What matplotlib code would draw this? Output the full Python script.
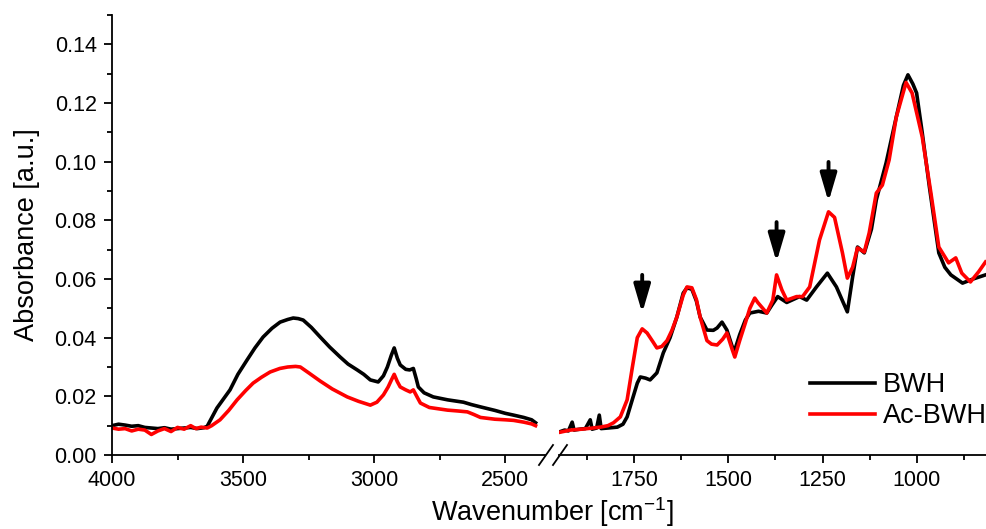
import numpy as np
import matplotlib.pyplot as plt
from matplotlib.ticker import MultipleLocator

plt.rcParams['font.family'] = ['Liberation Sans', 'DejaVu Sans']
plt.rcParams['mathtext.fontset'] = 'custom'
plt.rcParams['mathtext.rm'] = 'Liberation Sans'
plt.rcParams['mathtext.it'] = 'Liberation Sans:italic'

# high wavenumber region (4000 - 2385 cm-1)
wn_hi_bwh = [4000, 3975, 3950, 3925, 3900, 3875, 3850, 3825, 3800, 3775, 3750, 3725, 3700,
             3675, 3650, 3637, 3600, 3550, 3520, 3485, 3455, 3424, 3390, 3359, 3330, 3309,
             3290, 3271, 3240, 3206, 3170, 3130, 3100, 3065, 3040, 3015, 2985, 2965, 2950,
             2935, 2924, 2912, 2901, 2880, 2865, 2851, 2840, 2832, 2810, 2775, 2720, 2660,
             2630, 2595, 2540, 2500, 2469, 2430, 2400, 2385]
abs_hi_bwh = [0.0100, 0.0105, 0.0102, 0.0098, 0.0100, 0.0094, 0.0092, 0.0090, 0.0093, 0.0088,
              0.0090, 0.0092, 0.0094, 0.0090, 0.0093, 0.0098, 0.0160, 0.0222, 0.0275, 0.0324,
              0.0365, 0.0402, 0.0432, 0.0453, 0.0462, 0.0467, 0.0465, 0.0460, 0.0435, 0.0402,
              0.0368, 0.0334, 0.0310, 0.0290, 0.0275, 0.0256, 0.0249, 0.0270, 0.0300, 0.0340,
              0.0365, 0.0330, 0.0307, 0.0292, 0.0290, 0.0295, 0.0260, 0.0232, 0.0212, 0.0198,
              0.0188, 0.0180, 0.0172, 0.0164, 0.0152, 0.0142, 0.0136, 0.0128, 0.0120, 0.0110]

wn_hi_ac = [4000, 3975, 3950, 3925, 3900, 3875, 3850, 3825, 3800, 3775, 3750, 3725, 3700,
            3680, 3660, 3637, 3620, 3588, 3555, 3523, 3490, 3462, 3430, 3397, 3360, 3330,
            3300, 3282, 3250, 3206, 3160, 3103, 3060, 3015, 2990, 2965, 2947, 2935, 2924,
            2912, 2901, 2880, 2863, 2851, 2835, 2824, 2790, 2721, 2680, 2645, 2620, 2595,
            2540, 2500, 2469, 2430, 2400, 2385]
abs_hi_ac = [0.0092, 0.0088, 0.0090, 0.0082, 0.0088, 0.0085, 0.0070, 0.0082, 0.0090, 0.0080,
             0.0094, 0.0088, 0.0100, 0.0090, 0.0095, 0.0092, 0.0100, 0.0120, 0.0152, 0.0188,
             0.0220, 0.0245, 0.0265, 0.0283, 0.0295, 0.0300, 0.0302, 0.0300, 0.0280, 0.0252,
             0.0225, 0.0198, 0.0183, 0.0170, 0.0180, 0.0205, 0.0232, 0.0255, 0.0275, 0.0250,
             0.0232, 0.0222, 0.0215, 0.0222, 0.0195, 0.0177, 0.0162, 0.0153, 0.0150, 0.0147,
             0.0138, 0.0128, 0.0122, 0.0120, 0.0118, 0.0112, 0.0106, 0.0100]

# fingerprint region (1946 - 817 cm-1)
wn_lo_bwh = [1946, 1935, 1925, 1915, 1910, 1895, 1880, 1867, 1862, 1850, 1843, 1838, 1820,
             1795, 1780, 1769, 1755, 1742, 1734, 1720, 1708, 1690, 1673, 1655, 1637, 1620,
             1610, 1597, 1585, 1575, 1557, 1540, 1530, 1517, 1504, 1490, 1483, 1470, 1455,
             1443, 1420, 1398, 1385, 1369, 1345, 1311, 1292, 1266, 1237, 1213, 1195, 1184,
             1170, 1157, 1139, 1120, 1107, 1081, 1054, 1035, 1023, 1010, 1000, 985, 966,
             941, 925, 909, 878, 850, 817]
abs_lo_bwh = [0.0080, 0.0085, 0.0082, 0.0112, 0.0085, 0.0088, 0.0090, 0.0120, 0.0088, 0.0092,
              0.0136, 0.0090, 0.0092, 0.0095, 0.0105, 0.0130, 0.0190, 0.0245, 0.0266, 0.0262,
              0.0256, 0.0280, 0.0348, 0.0400, 0.0470, 0.0552, 0.0570, 0.0565, 0.0525, 0.0470,
              0.0426, 0.0425, 0.0433, 0.0453, 0.0426, 0.0370, 0.0358, 0.0410, 0.0460, 0.0484,
              0.0490, 0.0484, 0.0510, 0.0540, 0.0520, 0.0540, 0.0528, 0.0573, 0.0620, 0.0573,
              0.0520, 0.0488, 0.0607, 0.0709, 0.0689, 0.0770, 0.0870, 0.0996, 0.1152, 0.1260,
              0.1296, 0.1265, 0.1234, 0.1098, 0.0914, 0.0689, 0.0640, 0.0614, 0.0586, 0.0600,
              0.0614]

wn_lo_ac = [1946, 1920, 1890, 1860, 1840, 1820, 1805, 1787, 1769, 1755, 1742, 1729, 1716,
            1700, 1690, 1677, 1663, 1650, 1637, 1620, 1610, 1597, 1585, 1575, 1557, 1545,
            1530, 1515, 1504, 1490, 1483, 1470, 1455, 1443, 1430, 1422, 1398, 1382, 1372,
            1358, 1345, 1319, 1303, 1284, 1258, 1234, 1218, 1197, 1184, 1170, 1157, 1139,
            1126, 1107, 1091, 1073, 1054, 1028, 1012, 985, 962, 941, 915, 896, 880, 857,
            835, 817]
abs_lo_ac = [0.0078, 0.0085, 0.0088, 0.0092, 0.0095, 0.0100, 0.0110, 0.0130, 0.0188, 0.0300,
             0.0400, 0.0430, 0.0416, 0.0385, 0.0365, 0.0370, 0.0390, 0.0425, 0.0470, 0.0545,
             0.0573, 0.0570, 0.0530, 0.0470, 0.0390, 0.0378, 0.0375, 0.0395, 0.0416, 0.0360,
             0.0334, 0.0390, 0.0450, 0.0500, 0.0535, 0.0520, 0.0484, 0.0528, 0.0614, 0.0563,
             0.0528, 0.0540, 0.0540, 0.0573, 0.0733, 0.0829, 0.0810, 0.0689, 0.0603, 0.0640,
             0.0706, 0.0692, 0.0757, 0.0893, 0.0920, 0.1006, 0.1152, 0.1270, 0.1234, 0.1084,
             0.0893, 0.0709, 0.0655, 0.0672, 0.0620, 0.0590, 0.0625, 0.0658]

# arrows marking acetyl bands: (wavenumber, tail, tip)
arrow_marks = [(1729, 0.0614, 0.0484), (1372, 0.0794, 0.0658), (1234, 0.0999, 0.0863)]

W, H = 987, 529
fig = plt.figure(figsize=(W / 100, H / 100), dpi=100)
ax_l = fig.add_axes([112 / W, (H - 455) / H, (545 - 112) / W, 440 / H])
ax_r = fig.add_axes([559 / W, (H - 455) / H, (987 - 559) / W, 440 / H], sharey=ax_l)

lw = 2.6
ax_l.plot(wn_hi_bwh, abs_hi_bwh, color='black', lw=lw)
ax_l.plot(wn_hi_ac, abs_hi_ac, color='#ff0000', lw=lw)
ax_r.plot(wn_lo_bwh, abs_lo_bwh, color='black', lw=lw, label='BWH')
ax_r.plot(wn_lo_ac, abs_lo_ac, color='#ff0000', lw=lw, label='Ac-BWH')

ax_l.set_xlim(4000, 2349)
ax_r.set_xlim(1950, 813)
ax_l.set_ylim(0, 0.15)

ax_l.xaxis.set_major_locator(MultipleLocator(500))
ax_l.xaxis.set_minor_locator(MultipleLocator(250))
ax_r.xaxis.set_major_locator(MultipleLocator(250))
ax_r.xaxis.set_minor_locator(MultipleLocator(125))
ax_l.yaxis.set_major_locator(MultipleLocator(0.02))
ax_l.yaxis.set_minor_locator(MultipleLocator(0.01))
ax_l.yaxis.set_major_formatter(plt.FormatStrFormatter('%.2f'))

for ax in (ax_l, ax_r):
    ax.spines['top'].set_visible(False)
    ax.spines['right'].set_visible(False)
    for s in ax.spines.values():
        s.set_linewidth(1.3)
    ax.tick_params(which='major', direction='out', length=6, width=1.3, labelsize=15.5, pad=5)
    ax.tick_params(which='minor', direction='out', length=3.5, width=1.3)
    ax.patch.set_alpha(0)
ax_r.spines['left'].set_visible(False)
ax_r.tick_params(axis='y', which='both', left=False, labelleft=False)

# axis break marks
for xb in (539, 553):
    fig.add_artist(plt.Line2D([xb / W, (xb + 14) / W], [(H - 465) / H, (H - 445) / H],
                              color='black', lw=1.3))

for x, y0, y1 in arrow_marks:
    ax_r.annotate('', xy=(x, y1), xytext=(x, y0),
                  arrowprops=dict(arrowstyle='-|>,head_width=0.5,head_length=1.7',
                                  color='black', lw=2.8, shrinkA=0, shrinkB=0))

fig.text(552 / W, (H - 521) / H, 'Wavenumber [cm$^{-1}$]', fontsize=19.5,
         ha='center', va='baseline')
fig.text(27 / W, (H - 235) / H, 'Absorbance [a.u.]', fontsize=19.5,
         ha='center', va='center', rotation=90)

ax_r.legend(loc='upper left', bbox_to_anchor=(810 / W, (H - 372) / H),
            bbox_transform=fig.transFigure, frameon=False, fontsize=19.5,
            handlelength=2.4, handletextpad=0.3, labelspacing=0.2,
            borderpad=0, borderaxespad=0)

fig.savefig('out.png', dpi=100)
